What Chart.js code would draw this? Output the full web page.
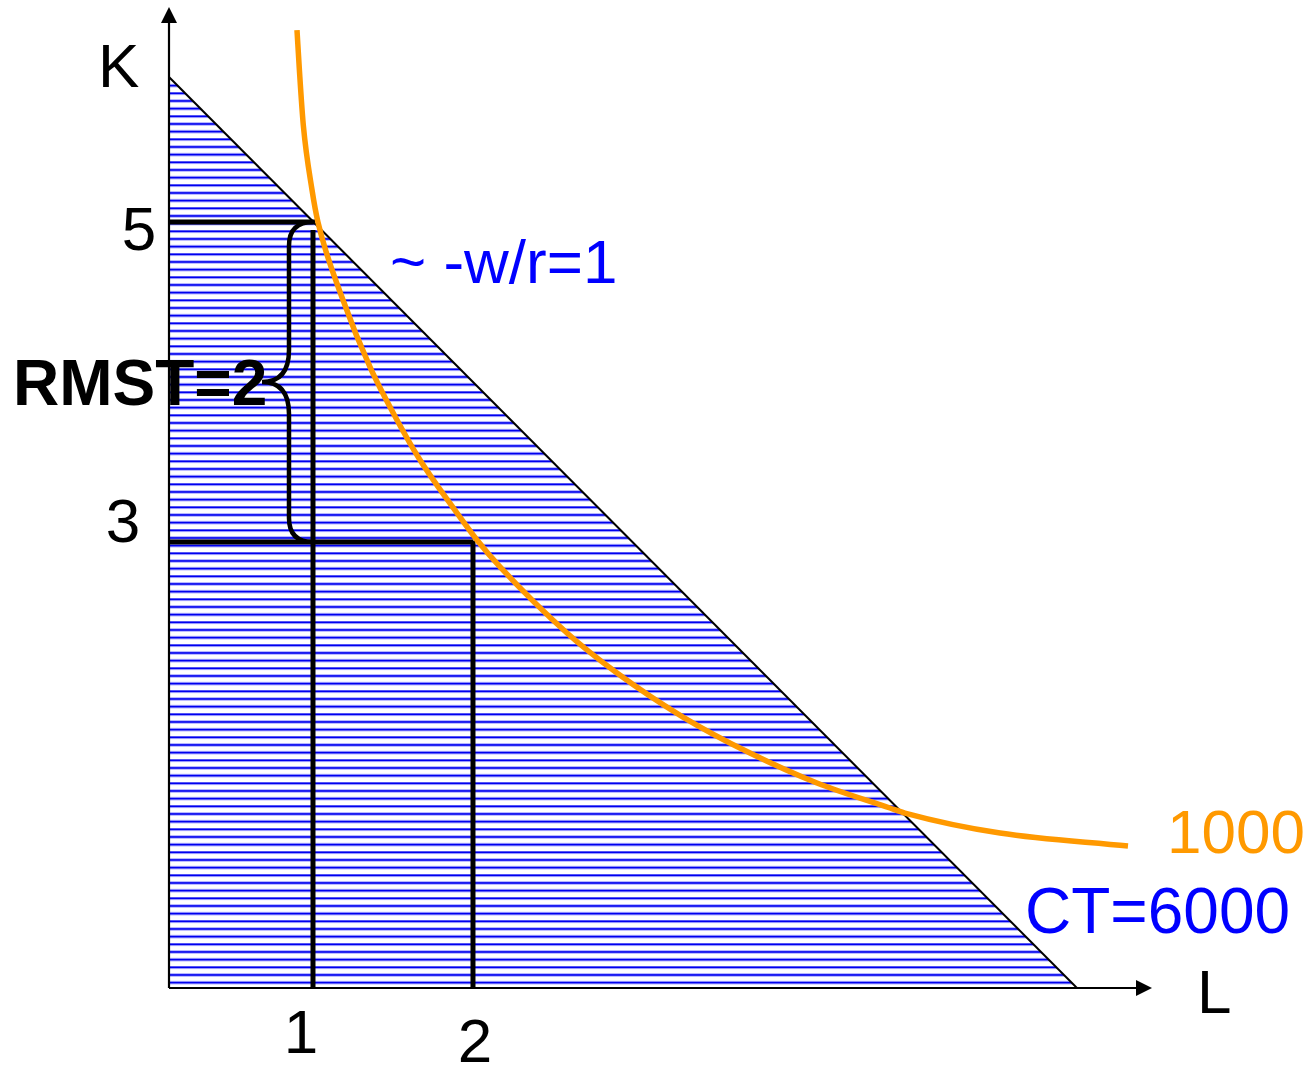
<!DOCTYPE html>
<html>
<head>
<meta charset="utf-8">
<script src="https://cdn.jsdelivr.net/npm/chart.js@4/dist/chart.umd.min.js"></script>
<style>
html,body{margin:0;padding:0;background:#fff;}
#wrap{width:1311px;height:1066px;position:relative;}
</style>
</head>
<body>
<div id="wrap"><canvas id="c" width="1311" height="1066"></canvas></div>
<script>
// ---- data (schematic units: L = labour, K = capital) ----
const L_TICKS = [1, 2];
const K_TICKS = [5, 3];
const L_RANGE = [0.1, 6.244];
const K_RANGE = [0.2125, 6.344];

// isocost line CT=6000 (slope -w/r = 1)
const costL = [0.1, 5.775];
const costK = [5.906, 0.2125];

// isoquant 1000
const isoL = [0.9, 0.915, 0.94, 0.994, 1.031, 1.1875, 1.356, 1.525, 1.669, 1.9, 2.025, 2.169, 2.5875, 2.9, 3.3125, 3.731, 4.15, 4.606, 4.7, 5.294, 6.094];
const isoK = [6.2, 5.95, 5.6, 5.2, 5.0, 4.5125, 4.094, 3.7625, 3.5125, 3.181, 3.0125, 2.844, 2.431, 2.181, 1.906, 1.681, 1.494, 1.3375, 1.306, 1.181, 1.1];

// guide lines: point A (L=1, K=5) and point B (L=2, K=3)
const pointL = [1, 2];
const pointK = [5, 3];

const labels = {
  K: 'K', L: 'L', slope: '~ -w/r=1', rmst: 'RMST=2', iso: '1000', cost: 'CT=6000'
};

function pts(xs, ys){ return xs.map((x,i)=>({x:x, y:ys[i]})); }

// hatch pattern
const pc = document.createElement('canvas');
pc.width = 16; pc.height = 23;
const pctx = pc.getContext('2d');
pctx.fillStyle = '#ffffff';
pctx.fillRect(0,0,16,23);
[0.3, 7.97, 15.63].forEach(y=>{
  pctx.fillStyle = 'rgba(170,170,255,1)';
  pctx.fillRect(0, y-0.8, 16, 3.6);
  pctx.fillStyle = '#0000ee';
  pctx.fillRect(0, y+0.2, 16, 1.6);
});

const FONT = "'Liberation Sans', Arial, sans-serif";

const decor = {
  id: 'decor',
  afterDatasetsDraw(chart){
    const ctx = chart.ctx, xs = chart.scales.x, ys = chart.scales.y;
    const x0 = xs.getPixelForValue(L_RANGE[0]), y0 = ys.getPixelForValue(K_RANGE[0]);
    const xe = xs.getPixelForValue(L_RANGE[1]), ye = ys.getPixelForValue(K_RANGE[1]);
    ctx.save();
    // axes
    ctx.strokeStyle = '#000'; ctx.fillStyle = '#000'; ctx.lineWidth = 2.2;
    ctx.beginPath(); ctx.moveTo(x0, y0); ctx.lineTo(xe-12, y0); ctx.stroke();
    ctx.beginPath(); ctx.moveTo(x0, y0); ctx.lineTo(x0, ye+12); ctx.stroke();
    ctx.beginPath(); ctx.moveTo(xe, y0); ctx.lineTo(xe-16, y0-8); ctx.lineTo(xe-16, y0+8); ctx.closePath(); ctx.fill();
    ctx.beginPath(); ctx.moveTo(x0, ye); ctx.lineTo(x0-8, ye+16); ctx.lineTo(x0+8, ye+16); ctx.closePath(); ctx.fill();
    // brace between K=5 and K=3 at L=1
    const xr = xs.getPixelForValue(pointL[0]);
    const yt = ys.getPixelForValue(pointK[0]);
    const yb = ys.getPixelForValue(pointK[1]);
    const xm = xr - 24, tip = xr - 51, ym = (yt+yb)/2;
    ctx.lineWidth = 4.5; ctx.lineCap = 'butt';
    ctx.beginPath();
    ctx.moveTo(xr, yt);
    ctx.quadraticCurveTo(xm, yt, xm, yt+24);
    ctx.lineTo(xm, ym-32);
    ctx.quadraticCurveTo(xm, ym, tip, ym);
    ctx.quadraticCurveTo(xm, ym, xm, ym+32);
    ctx.lineTo(xm, yb-24);
    ctx.quadraticCurveTo(xm, yb, xr, yb);
    ctx.stroke();
    ctx.restore();
  },
  afterDraw(chart){
    const ctx = chart.ctx, xs = chart.scales.x, ys = chart.scales.y;
    const x0 = xs.getPixelForValue(L_RANGE[0]), y0 = ys.getPixelForValue(K_RANGE[0]);
    ctx.save();
    ctx.font = '62px ' + FONT;
    ctx.fillStyle = '#000';
    ctx.textBaseline = 'alphabetic';
    // axis titles
    ctx.textAlign = 'left';
    ctx.fillText(labels.K, 98, 87);
    ctx.fillText(labels.L, 1197, 1013);
    // ticks
    ctx.textAlign = 'center';
    const kDx = [-30, -46], kDy = [28, 0];
    K_TICKS.forEach((k,i)=>{
      const y = ys.getPixelForValue(k);
      ctx.fillText(String(k), x0 + kDx[i], y + kDy[i]);
    });
    const lDx = [-12, 2], lDy = [65, 74];
    L_TICKS.forEach((l,i)=>{
      const x = xs.getPixelForValue(l);
      ctx.fillText(String(l), x + lDx[i], y0 + lDy[i]);
    });
    // annotations
    ctx.textAlign = 'left';
    ctx.fillStyle = '#0000ff';
    ctx.fillText(labels.slope, 390, 283);
    ctx.font = '64px ' + FONT;
    ctx.fillText(labels.cost, 1025, 933);
    ctx.font = '62px ' + FONT;
    ctx.fillStyle = '#ff9900';
    ctx.fillText(labels.iso, 1167, 853);
    ctx.fillStyle = '#000';
    ctx.font = 'bold 64px ' + FONT;
    ctx.fillText(labels.rmst, 13, 405);
    ctx.restore();
  }
};

const ctx = document.getElementById('c').getContext('2d');
new Chart(ctx, {
  type: 'line',
  data: {
    datasets: [
      {
        label: 'CT=6000',
        data: pts(costL, costK),
        borderColor: '#000',
        borderWidth: 2,
        backgroundColor: ctx.createPattern(pc, 'repeat'),
        fill: 'start',
        pointRadius: 0,
        tension: 0,
        order: 3
      },
      {
        label: 'guideA_h',
        data: pts([L_RANGE[0], pointL[0] + 0.0125], [pointK[0], pointK[0]]),
        borderColor: '#000', borderWidth: 5, pointRadius: 0, fill: false, order: 2, borderCapStyle: 'butt'
      },
      {
        label: 'guideA_v',
        data: pts([pointL[0], pointL[0]], [pointK[0] - 0.05, K_RANGE[0]]),
        borderColor: '#000', borderWidth: 5, pointRadius: 0, fill: false, order: 2, borderCapStyle: 'butt'
      },
      {
        label: 'guideB_h',
        data: pts([L_RANGE[0], pointL[1]], [pointK[1], pointK[1]]),
        borderColor: '#000', borderWidth: 5, pointRadius: 0, fill: false, order: 2, borderCapStyle: 'butt'
      },
      {
        label: 'guideB_v',
        data: pts([pointL[1], pointL[1]], [pointK[1] + 0.01, K_RANGE[0]]),
        borderColor: '#000', borderWidth: 5, pointRadius: 0, fill: false, order: 2, borderCapStyle: 'butt'
      },
      {
        label: '1000',
        data: pts(isoL, isoK),
        borderColor: '#ff9900',
        borderWidth: 5.5,
        pointRadius: 0,
        fill: false,
        cubicInterpolationMode: 'monotone',
        order: 1
      }
    ]
  },
  options: {
    responsive: false,
    animation: false,
    layout: { padding: { left: 169, right: 159, top: 7, bottom: 78 } },
    plugins: { legend: { display: false }, tooltip: { enabled: false } },
    scales: {
      x: { type: 'linear', min: L_RANGE[0], max: L_RANGE[1], display: false },
      y: { type: 'linear', min: K_RANGE[0], max: K_RANGE[1], display: false }
    }
  },
  plugins: [decor]
});
</script>
</body>
</html>
